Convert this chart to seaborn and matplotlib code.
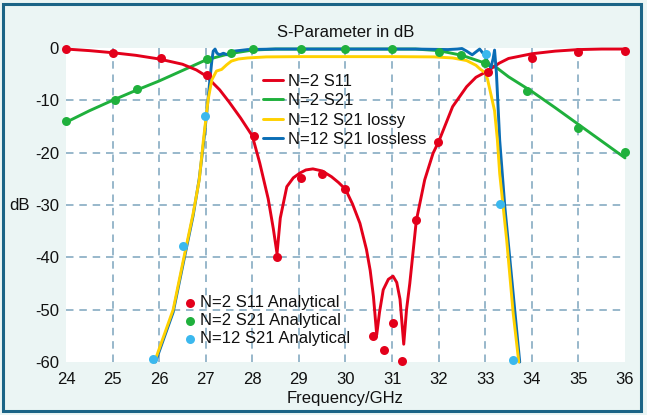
import matplotlib
matplotlib.use("Agg")
import matplotlib.pyplot as plt
from matplotlib import font_manager as fm
import seaborn as sns
import pandas as pd
from matplotlib.patches import Rectangle

# ---------------- data ----------------
s11_f = [24.0, 24.5, 25.0, 25.5, 26.0, 26.5, 26.8, 27.0, 27.3, 27.5, 27.75, 28.0,
         28.16, 28.34, 28.45, 28.53, 28.6, 28.74, 28.88, 29.02, 29.15, 29.3, 29.5,
         29.7, 29.85, 30.0, 30.15, 30.31, 30.45, 30.53, 30.6, 30.67, 30.73, 30.81,
         30.92, 31.02, 31.1, 31.17, 31.25, 31.31, 31.38, 31.52, 31.7, 31.88, 32.0,
         32.3, 32.6, 32.8, 33.03, 33.3, 33.5, 34.0, 34.5, 35.0, 35.5, 36.0]
s11_db = [-0.2, -0.5, -0.9, -1.4, -2.1, -3.1, -4.2, -5.3, -8.0, -10.3, -13.4, -16.8,
          -22.0, -28.8, -34.5, -39.3, -32.5, -26.5, -24.8, -23.9, -23.3, -23.1, -23.5,
          -24.6, -25.7, -27.0, -29.8, -33.5, -38.5, -42.5, -47.5, -54.8, -50.5, -46.2,
          -44.2, -43.6, -44.8, -48.0, -56.6, -50.0, -45.0, -33.0, -25.2, -20.1, -17.9,
          -11.2, -7.4, -5.6, -4.5, -2.9, -2.0, -1.1, -0.6, -0.3, -0.2, -0.2]

s21_f = [24.0, 24.5, 25.0, 25.5, 26.0, 26.5, 27.0, 27.5, 28.0, 28.5, 29.0, 30.0,
         31.0, 31.5, 32.0, 32.5, 33.0, 33.25, 33.5, 34.0, 34.5, 35.0, 35.5, 36.0]
s21_db = [-14.2, -12.0, -10.0, -8.1, -6.3, -4.3, -2.3, -1.1, -0.4, -0.2, -0.2, -0.2,
          -0.2, -0.2, -0.5, -1.4, -2.9, -3.8, -5.5, -8.3, -11.4, -14.6, -17.8, -21.0]

lossy_f = [25.9, 26.1, 26.3, 26.52, 26.73, 26.86, 26.95, 27.05, 27.13, 27.23, 27.34,
           27.45, 27.55, 27.7, 27.9, 28.3, 29.0, 30.0, 31.0, 31.9, 32.3, 32.6, 32.8,
           32.9, 33.0, 33.05, 33.1, 33.2, 33.26, 33.31, 33.46, 33.6, 33.72]
lossy_db = [-60.0, -55.0, -50.0, -40.5, -31.6, -25.2, -17.6, -9.9, -6.1, -4.4, -4.1,
            -3.2, -2.5, -2.1, -1.9, -1.7, -1.65, -1.65, -1.65, -1.7, -1.9, -2.4, -3.3,
            -4.1, -4.7, -6.0, -8.0, -12.0, -17.5, -24.0, -36.7, -50.7, -60.0]

lossless_f = [25.92, 26.3, 26.52, 26.73, 26.86, 26.96, 27.02, 27.09, 27.13, 27.16,
              27.2, 27.24, 27.3, 27.38, 27.46, 27.6, 27.9, 28.5, 29.5, 30.5, 31.5,
              32.2, 32.4, 32.5, 32.6, 32.72, 32.88, 32.97, 33.05, 33.12, 33.17, 33.2,
              33.24, 33.31, 33.42, 33.64, 33.74]
lossless_db = [-60.0, -50.5, -41.0, -32.0, -25.0, -17.6, -12.5, -6.0, -2.5, -0.6,
               -0.2, -1.0, -1.3, -1.0, -1.3, -0.6, -0.3, -0.2, -0.2, -0.2, -0.2,
               -0.3, -0.2, -0.1, -0.6, -1.3, -0.2, -1.2, -2.6, -3.8, -2.0, -0.4,
               -4.8, -17.6, -30.3, -50.7, -60.0]

s11_an_f = [24.0, 25.0, 26.05, 27.02, 28.03, 28.53, 29.04, 29.5, 30.0, 30.6, 30.83,
            31.01, 31.21, 31.52, 31.99, 33.05, 34.0, 35.0, 36.0]
s11_an_db = [-0.2, -0.9, -2.0, -5.2, -16.8, -40.0, -24.8, -24.1, -27.0, -55.0, -57.7,
             -52.6, -59.8, -32.9, -17.9, -4.6, -1.9, -0.8, -0.6]

s21_an_f = [24.0, 25.05, 25.53, 27.02, 27.55, 28.02, 29.04, 30.0, 31.0, 32.0, 32.49,
            32.99, 33.89, 34.99, 36.0]
s21_an_db = [-14.0, -10.0, -7.9, -2.1, -0.9, -0.1, -0.2, -0.2, -0.2, -0.8, -1.3,
             -2.9, -8.2, -15.2, -19.9]

n12_an_f = [25.87, 26.52, 26.98, 33.01, 33.31, 33.6]
n12_an_db = [-59.5, -37.8, -13.0, -1.2, -29.8, -59.6]

x_ticks = [24, 25, 26, 27, 28, 29, 30, 31, 32, 33, 34, 35, 36]
y_ticks = [0, -10, -20, -30, -40, -50, -60]

line_series = [("N=2 S11", s11_f, s11_db, "#e3001b"),
               ("N=2 S21", s21_f, s21_db, "#1fb03c"),
               ("N=12 S21 lossy", lossy_f, lossy_db, "#ffd100"),
               ("N=12 S21 lossless", lossless_f, lossless_db, "#0a6db5")]
dot_series = [("N=2 S11 Analytical", s11_an_f, s11_an_db, "#e3001b"),
              ("N=2 S21 Analytical", s21_an_f, s21_an_db, "#1fb03c"),
              ("N=12 S21 Analytical", n12_an_f, n12_an_db, "#3bb8ee")]

# ---------------- style ----------------
sns.set_style("white")
names = {f.name for f in fm.fontManager.ttflist}
if "Liberation Sans Narrow" in names:
    FONT = ["Liberation Sans Narrow", "DejaVu Sans"]
    FS, LSP1, LSP2 = 13.5, 0.0, -0.05
elif "Liberation Sans" in names:
    FONT = ["Liberation Sans", "DejaVu Sans"]
    FS, LSP1, LSP2 = 12.0, 0.26, 0.18
else:
    FONT = ["DejaVu Sans"]
    FS, LSP1, LSP2 = 10.8, 0.3, 0.22
plt.rcParams["font.family"] = FONT
TXT = "#111111"

BG = "#ebf5f4"
fig = plt.figure(figsize=(6.47, 4.15), dpi=100, facecolor=BG)
W, H = 647, 415
ax = fig.add_axes([66 / W, 1 - 362 / H, 559 / W, 314 / H])
ax.set_facecolor("white")

# grid (interior lines only)
grid_kw = dict(color="#86abc2", lw=1.2, ls=(0, (4.5, 3.5)), zorder=0.5)
for xv in x_ticks[1:-1]:
    ax.axvline(xv, **grid_kw)
for yv in y_ticks[1:-1]:
    ax.axhline(yv, **grid_kw)

zorders = {"N=2 S11": 3.2, "N=2 S21": 3.1, "N=12 S21 lossy": 3.4, "N=12 S21 lossless": 3.3}
line_handles = []
for name, f, d, c in line_series:
    df = pd.DataFrame({"f": f, "dB": d})
    sns.lineplot(data=df, x="f", y="dB", ax=ax, color=c, lw=2.1, label=name,
                 estimator=None, sort=False, clip_on=False, zorder=zorders[name])
    line_handles.append(ax.get_lines()[-1])

dot_handles = []
for name, f, d, c in dot_series:
    df = pd.DataFrame({"f": f, "dB": d})
    sns.scatterplot(data=df, x="f", y="dB", ax=ax, color=c, s=42, linewidth=0,
                    label=name, clip_on=False, zorder=4)
    dot_handles.append(ax.collections[-1])

ax.set_xlim(24, 36)
ax.set_ylim(-60, 0)
ax.set_xticks(x_ticks)
ax.set_yticks(y_ticks)
ax.set_xticklabels([str(v) for v in x_ticks])
ax.set_yticklabels([str(v) for v in y_ticks])
ax.tick_params(length=0, labelsize=FS, colors=TXT)
ax.tick_params(axis="x", pad=7)
ax.tick_params(axis="y", pad=5)
for s in ax.spines.values():
    s.set_visible(False)

ax.set_xlabel("Frequency/GHz", fontsize=FS, color=TXT, va="center")
ax.xaxis.set_label_coords(0.5, (362 - 398) / 314)
ax.set_ylabel("dB", fontsize=FS, rotation=0, ha="center", va="center", color=TXT)
ax.yaxis.set_label_coords((19 - 66) / 559, 0.5)
ax.text(0.5, 1 + 15 / 314, "S-Parameter in dB", transform=ax.transAxes,
        ha="center", va="center", fontsize=FS, color=TXT)

leg1 = ax.legend(handles=line_handles, labels=[s[0] for s in line_series],
                 loc="upper left", bbox_to_anchor=((263 - 66) / 559, 1 - (74 - 48) / 314),
                 frameon=False, fontsize=FS, handlelength=1.2, handletextpad=0.3,
                 labelspacing=LSP1, borderpad=0, borderaxespad=0)
for t in leg1.get_texts():
    t.set_color(TXT)
ax.add_artist(leg1)
leg2 = ax.legend(handles=dot_handles, labels=[s[0] for s in dot_series],
                 loc="upper left", bbox_to_anchor=((183 - 66) / 559, 1 - (295 - 48) / 314),
                 frameon=False, fontsize=FS, handlelength=0.8, handletextpad=0.2,
                 labelspacing=LSP2, borderpad=0, borderaxespad=0, scatterpoints=1)
for t in leg2.get_texts():
    t.set_color(TXT)

# outer frame
fig.patches.append(Rectangle((3 / W, 4 / H), (641 - 3) / W, (411 - 4) / H,
                             transform=fig.transFigure, fill=False,
                             edgecolor="#1b6486", lw=2.2))

fig.savefig("out.png", dpi=100, facecolor=BG)
